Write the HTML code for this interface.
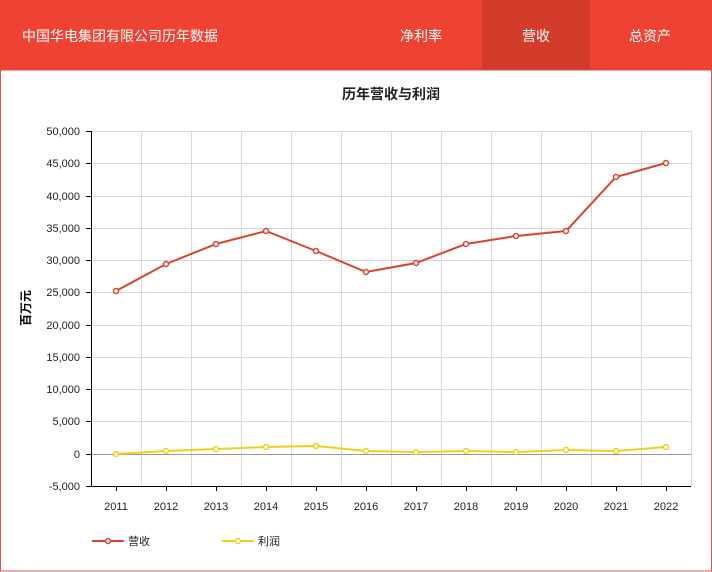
<!DOCTYPE html>
<html><head><meta charset="utf-8"><style>
html,body{margin:0;padding:0;background:#fff;width:712px;height:572px;overflow:hidden;font-family:"Liberation Sans","Noto Sans CJK SC",sans-serif}
</style></head><body>
<svg width="712" height="572" xmlns="http://www.w3.org/2000/svg" font-family="Liberation Sans, Noto Sans CJK SC, sans-serif">
<rect x="0" y="0" width="712" height="70" fill="#ee4233"/>
<rect x="482" y="0" width="108" height="70" fill="#d33b2b"/>
<text x="22" y="41" font-size="14" fill="#fff">中国华电集团有限公司历年数据</text>
<text x="421" y="41" font-size="14" fill="#fff" text-anchor="middle">净利率</text>
<text x="536" y="41" font-size="14" fill="#fff" text-anchor="middle">营收</text>
<text x="650" y="41" font-size="14" fill="#fff" text-anchor="middle">总资产</text>
<rect x="0.5" y="70" width="711" height="501" fill="none" stroke="#d9534f" stroke-width="1"/>
<text x="391" y="99" font-size="14" font-weight="bold" fill="#222" text-anchor="middle">历年营收与利润</text>
<g stroke="#d8d8d8" stroke-width="1">
<line x1="91" y1="131.5" x2="691" y2="131.5"/><line x1="91" y1="163.5" x2="691" y2="163.5"/><line x1="91" y1="196.5" x2="691" y2="196.5"/><line x1="91" y1="228.5" x2="691" y2="228.5"/><line x1="91" y1="260.5" x2="691" y2="260.5"/><line x1="91" y1="292.5" x2="691" y2="292.5"/><line x1="91" y1="325.5" x2="691" y2="325.5"/><line x1="91" y1="357.5" x2="691" y2="357.5"/><line x1="91" y1="389.5" x2="691" y2="389.5"/><line x1="91" y1="421.5" x2="691" y2="421.5"/>
<line x1="141.5" y1="131" x2="141.5" y2="486"/><line x1="191.5" y1="131" x2="191.5" y2="486"/><line x1="241.5" y1="131" x2="241.5" y2="486"/><line x1="291.5" y1="131" x2="291.5" y2="486"/><line x1="341.5" y1="131" x2="341.5" y2="486"/><line x1="391.5" y1="131" x2="391.5" y2="486"/><line x1="441.5" y1="131" x2="441.5" y2="486"/><line x1="491.5" y1="131" x2="491.5" y2="486"/><line x1="541.5" y1="131" x2="541.5" y2="486"/><line x1="591.5" y1="131" x2="591.5" y2="486"/><line x1="641.5" y1="131" x2="641.5" y2="486"/><line x1="691.5" y1="131" x2="691.5" y2="486"/>
</g>
<line x1="91" y1="454.5" x2="691" y2="454.5" stroke="#999"/>
<g stroke="#000" stroke-width="1">
<line x1="91.5" y1="131" x2="91.5" y2="487"/><line x1="91" y1="486.5" x2="691" y2="486.5"/>
<line x1="86" y1="131.5" x2="91" y2="131.5"/><line x1="86" y1="163.5" x2="91" y2="163.5"/><line x1="86" y1="196.5" x2="91" y2="196.5"/><line x1="86" y1="228.5" x2="91" y2="228.5"/><line x1="86" y1="260.5" x2="91" y2="260.5"/><line x1="86" y1="292.5" x2="91" y2="292.5"/><line x1="86" y1="325.5" x2="91" y2="325.5"/><line x1="86" y1="357.5" x2="91" y2="357.5"/><line x1="86" y1="389.5" x2="91" y2="389.5"/><line x1="86" y1="421.5" x2="91" y2="421.5"/><line x1="86" y1="454.5" x2="91" y2="454.5"/><line x1="86" y1="486.5" x2="91" y2="486.5"/>
<line x1="116.5" y1="486" x2="116.5" y2="491"/><line x1="166.5" y1="486" x2="166.5" y2="491"/><line x1="216.5" y1="486" x2="216.5" y2="491"/><line x1="266.5" y1="486" x2="266.5" y2="491"/><line x1="316.5" y1="486" x2="316.5" y2="491"/><line x1="366.5" y1="486" x2="366.5" y2="491"/><line x1="416.5" y1="486" x2="416.5" y2="491"/><line x1="466.5" y1="486" x2="466.5" y2="491"/><line x1="516.5" y1="486" x2="516.5" y2="491"/><line x1="566.5" y1="486" x2="566.5" y2="491"/><line x1="616.5" y1="486" x2="616.5" y2="491"/><line x1="666.5" y1="486" x2="666.5" y2="491"/>
</g>
<g font-size="11" fill="#222" text-anchor="end">
<text x="80" y="135">50,000</text><text x="80" y="167">45,000</text><text x="80" y="200">40,000</text><text x="80" y="232">35,000</text><text x="80" y="264">30,000</text><text x="80" y="296">25,000</text><text x="80" y="329">20,000</text><text x="80" y="361">15,000</text><text x="80" y="393">10,000</text><text x="80" y="425">5,000</text><text x="80" y="458">0</text><text x="80" y="490">-5,000</text>
</g>
<g font-size="11" fill="#222" text-anchor="middle">
<text x="116" y="510">2011</text><text x="166" y="510">2012</text><text x="216" y="510">2013</text><text x="266" y="510">2014</text><text x="316" y="510">2015</text><text x="366" y="510">2016</text><text x="416" y="510">2017</text><text x="466" y="510">2018</text><text x="516" y="510">2019</text><text x="566" y="510">2020</text><text x="616" y="510">2021</text><text x="666" y="510">2022</text>
</g>
<text transform="translate(30,308) rotate(-90)" font-size="12" font-weight="bold" fill="#000" text-anchor="middle">百万元</text>
<g fill="none" stroke="#d9432f" stroke-width="2">
<polyline points="116,291 166,264 216,244 266,231 316,251 366,272 416,263 466,244 516,236 566,231 616,177 666,163"/>
</g>
<g fill="#fff" stroke="#d9432f" stroke-width="1.5">
<circle cx="116" cy="291" r="2.5"/><circle cx="166" cy="264" r="2.5"/><circle cx="216" cy="244" r="2.5"/><circle cx="266" cy="231" r="2.5"/><circle cx="316" cy="251" r="2.5"/><circle cx="366" cy="272" r="2.5"/><circle cx="416" cy="263" r="2.5"/><circle cx="466" cy="244" r="2.5"/><circle cx="516" cy="236" r="2.5"/><circle cx="566" cy="231" r="2.5"/><circle cx="616" cy="177" r="2.5"/><circle cx="666" cy="163" r="2.5"/>
</g>
<g fill="none" stroke="#f0cf1e" stroke-width="2">
<polyline points="116,454 166,451 216,449 266,447 316,446 366,451 416,452 466,451 516,452 566,450 616,451 666,447"/>
</g>
<g fill="#fff" stroke="#f0cf1e" stroke-width="1.5">
<circle cx="116" cy="454" r="2.5"/><circle cx="166" cy="451" r="2.5"/><circle cx="216" cy="449" r="2.5"/><circle cx="266" cy="447" r="2.5"/><circle cx="316" cy="446" r="2.5"/><circle cx="366" cy="451" r="2.5"/><circle cx="416" cy="452" r="2.5"/><circle cx="466" cy="451" r="2.5"/><circle cx="516" cy="452" r="2.5"/><circle cx="566" cy="450" r="2.5"/><circle cx="616" cy="451" r="2.5"/><circle cx="666" cy="447" r="2.5"/>
</g>
<line x1="92" y1="541" x2="124" y2="541" stroke="#d9432f" stroke-width="2"/>
<circle cx="108" cy="541" r="2.5" fill="#fff" stroke="#d9432f" stroke-width="1.5"/>
<text x="128" y="545" font-size="11" fill="#222">营收</text>
<line x1="222" y1="541" x2="254" y2="541" stroke="#f0cf1e" stroke-width="2"/>
<circle cx="238" cy="541" r="2.5" fill="#fff" stroke="#f0cf1e" stroke-width="1.5"/>
<text x="258" y="545" font-size="11" fill="#222">利润</text>
</svg>
</body></html>
